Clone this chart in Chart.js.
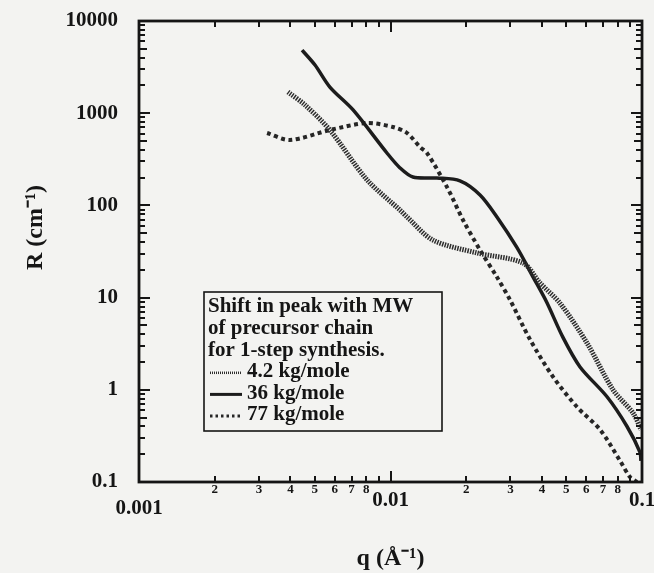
<!DOCTYPE html>
<html>
<head>
<meta charset="utf-8">
<script src="https://cdn.jsdelivr.net/npm/chart.js@4.4.0/dist/chart.umd.min.js"></script>
<style>
  html, body { margin: 0; padding: 0; background: #f3f3f1; }
</style>
</head>
<body>
<canvas id="chart" width="654" height="573"></canvas>
<script>
// q (1/A) and R (1/cm), one pair of arrays per precursor MW
const q42 = [0.00391, 0.00457, 0.00574, 0.00807, 0.01091, 0.01163, 0.01476, 0.02208, 0.03365, 0.0393, 0.0472, 0.0605, 0.0767, 0.0921, 0.0991];
const r42 = [1700, 1230, 657, 189, 89, 75, 42, 30.5, 23.7, 14.4, 8.7, 3.2, 1.0, 0.56, 0.37];

const q36 = [0.00445, 0.00501, 0.00574, 0.0071, 0.00968, 0.01091, 0.01228, 0.01531, 0.01889, 0.0227, 0.0265, 0.0318, 0.0369, 0.0418, 0.0485, 0.0567, 0.0726, 0.0872, 0.0982, 0.099];
const r36 = [4840, 3330, 1920, 1084, 370, 255, 203, 198, 185, 130, 75, 35, 16.7, 8.9, 3.7, 1.77, 0.84, 0.40, 0.21, 0.17];

const q77 = [0.00323, 0.00398, 0.00574, 0.00807, 0.01023, 0.01163, 0.0131, 0.01397, 0.01678, 0.01942, 0.0227, 0.0265, 0.0299, 0.0359, 0.0443, 0.0552, 0.0681, 0.0818, 0.0896, 0.0955];
const r77 = [610, 512, 657, 783, 708, 610, 430, 370, 158, 69.5, 32.8, 16.7, 9.4, 3.5, 1.38, 0.65, 0.37, 0.17, 0.113, 0.1];

const seriesLabels = ['4.2 kg/mole', '36 kg/mole', '77 kg/mole'];
const legendTitle = ['Shift in peak with MW', 'of precursor chain', 'for 1-step synthesis.'];
const xTickLabels = { '-3': '0.001', '-2': '0.01', '-1': '0.1' };
const yTickLabels = { '-1': '0.1', '0': '1', '1': '10', '2': '100', '3': '1000', '4': '10000' };

const serif = "'Liberation Serif', 'Times New Roman', serif";

function toPoints(xs, ys) {
    return xs.map((x, i) => ({ x: x, y: ys[i] }));
}

// decade exponent and leading digit of a tick value (null when not a whole digit)
function splitTick(v) {
    const e = Math.floor(Math.log10(v) + 1e-9);
    const m = v / Math.pow(10, e);
    const r = Math.round(m);
    if (Math.abs(m - r) > 1e-6) return null;
    return { e: e, m: r };
}

// inward tick marks on all four sides plus the frame
const frameTicks = {
    id: 'frameTicks',
    afterDatasetsDraw(chart) {
        const { ctx, chartArea: a, scales } = chart;
        ctx.save();
        ctx.strokeStyle = '#151515';
        ctx.lineWidth = 2;
        ctx.beginPath();
        scales.x.ticks.forEach(t => {
            const s = splitTick(t.value);
            if (!s) return;
            const len = s.m === 1 ? 11 : 6;
            const px = Math.round(scales.x.getPixelForValue(t.value));
            ctx.moveTo(px, a.bottom); ctx.lineTo(px, a.bottom - len);
            ctx.moveTo(px, a.top); ctx.lineTo(px, a.top + len);
        });
        scales.y.ticks.forEach(t => {
            const s = splitTick(t.value);
            if (!s) return;
            const len = s.m === 1 ? 11 : (s.m === 5 ? 8 : 6);
            const py = Math.round(scales.y.getPixelForValue(t.value));
            ctx.moveTo(a.left, py); ctx.lineTo(a.left + len, py);
            ctx.moveTo(a.right, py); ctx.lineTo(a.right - len, py);
        });
        ctx.stroke();
        ctx.lineWidth = 2.8;
        ctx.strokeRect(a.left, a.top, a.width, a.height);
        ctx.restore();
    }
};

// boxed legend inside the plot, lower left
const boxLegend = {
    id: 'boxLegend',
    afterDraw(chart) {
        const { ctx, chartArea: a } = chart;
        const bx = a.left + 65, by = a.top + 271, bw = 238, bh = 139;
        const lh = 21.6;
        ctx.save();
        ctx.strokeStyle = '#151515';
        ctx.lineWidth = 1.6;
        ctx.strokeRect(bx, by, bw, bh);
        ctx.fillStyle = '#151515';
        ctx.font = 'bold 21px ' + serif;
        ctx.textBaseline = 'middle';
        let y = by + 15;
        legendTitle.forEach(line => {
            ctx.fillText(line, bx + 4, y);
            y += lh;
        });
        chart.data.datasets.forEach(ds => {
            ctx.save();
            ctx.strokeStyle = ds.borderColor;
            ctx.lineWidth = ds.legendWidth;
            ctx.setLineDash(ds.legendDash);
            ctx.beginPath();
            ctx.moveTo(bx + 6, y + 1);
            ctx.lineTo(bx + 38, y + 1);
            ctx.stroke();
            ctx.restore();
            ctx.fillText(ds.label, bx + 43, y);
            y += lh;
        });
        ctx.restore();
    }
};

new Chart(document.getElementById('chart'), {
    type: 'line',
    data: {
        datasets: [
            {
                label: seriesLabels[0],
                data: toPoints(q42, r42),
                borderColor: '#2e2e2e',
                borderWidth: 5,
                borderDash: [1.5, 1.1],
                legendWidth: 2.5,
                legendDash: [1, 1],
                tension: 0.3
            },
            {
                label: seriesLabels[1],
                data: toPoints(q36, r36),
                borderColor: '#1c1c1c',
                borderWidth: 3.5,
                borderDash: [],
                legendWidth: 3,
                legendDash: [],
                tension: 0.3
            },
            {
                label: seriesLabels[2],
                data: toPoints(q77, r77),
                borderColor: '#262626',
                borderWidth: 4,
                borderDash: [4, 3.5],
                legendWidth: 3,
                legendDash: [2.5, 3],
                tension: 0.3
            }
        ]
    },
    options: {
        responsive: false,
        animation: false,
        layout: { padding: { top: 21, right: 12, left: 0, bottom: 0 } },
        elements: { point: { radius: 0 } },
        plugins: {
            legend: { display: false },
            tooltip: { enabled: false }
        },
        scales: {
            x: {
                type: 'logarithmic',
                min: 0.001,
                max: 0.1,
                afterFit(scale) {
                    scale.height = 91;
                    scale.paddingLeft = 0;
                    scale.paddingRight = 0;
                },
                grid: { display: false, drawTicks: false },
                border: { display: false },
                ticks: {
                    autoSkip: false,
                    maxRotation: 0,
                    padding: 1,
                    color: '#151515',
                    font: (c) => {
                        const s = c.tick ? splitTick(c.tick.value) : null;
                        if (s && s.m === 1) {
                            return { family: serif, weight: 'bold', size: 21, lineHeight: s.e === -3 ? '52px' : '36px' };
                        }
                        return { family: serif, weight: 'bold', size: 13, lineHeight: '14px' };
                    },
                    callback: (v) => {
                        const s = splitTick(v);
                        if (!s) return '';
                        if (s.m === 1) return xTickLabels[String(s.e)] || '';
                        return s.m <= 8 ? String(s.m) : '';
                    }
                },
                title: {
                    display: true,
                    text: 'q (Å⁻¹)',
                    color: '#151515',
                    font: { family: serif, weight: 'bold', size: 24, lineHeight: 1.2 },
                    padding: { top: 0, bottom: 0 }
                }
            },
            y: {
                type: 'logarithmic',
                min: 0.1,
                max: 10000,
                afterFit(scale) {
                    scale.width = 139;
                    scale.paddingTop = 0;
                    scale.paddingBottom = 0;
                },
                grid: { display: false, drawTicks: true, tickLength: 21 },
                border: { display: false },
                ticks: {
                    autoSkip: false,
                    padding: 0,
                    color: '#151515',
                    font: { family: serif, weight: 'bold', size: 21 },
                    callback: (v) => {
                        const s = splitTick(v);
                        if (!s || s.m !== 1) return '';
                        return yTickLabels[String(s.e)] || '';
                    }
                },
                title: {
                    display: true,
                    text: '\u00a0\u00a0\u00a0\u00a0\u00a0\u00a0\u00a0\u00a0R (cm⁻¹)',
                    color: '#151515',
                    font: { family: serif, weight: 'bold', size: 24, lineHeight: 1.2 },
                    padding: { top: 21, bottom: 0 }
                }
            }
        }
    },
    plugins: [frameTicks, boxLegend]
});
</script>
</body>
</html>
